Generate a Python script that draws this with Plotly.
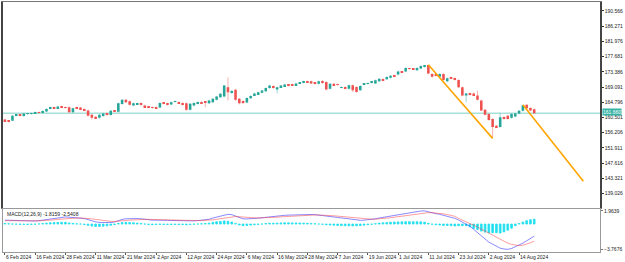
import pandas as pd
import plotly.graph_objects as go

# ---------------- data ----------------
start_date = "2024-02-06"

opens = [159.9, 159.6, 159.6, 161.0, 161.3, 160.9, 161.5, 161.5, 161.7, 162.0,
         161.9, 162.2, 163.0, 163.4, 163.1, 163.6, 163.4, 163.4, 162.0, 163.4,
         163.3, 162.9, 162.5, 161.3, 160.7, 160.4, 160.9, 161.6, 161.2, 162.4,
         162.1, 164.3, 165.5, 165.1, 163.9, 164.3, 164.5, 163.9, 163.6, 163.4,
         163.4, 163.3, 164.6, 164.5, 164.2, 164.9, 164.8, 164.6, 164.5, 162.7,
         163.9, 164.4, 164.9, 164.9, 164.5, 164.8, 165.5, 166.2, 166.4, 169.0,
         167.5, 168.3, 165.8, 165.1, 164.7, 165.9, 166.8, 167.1, 167.5, 167.9,
         168.8, 169.4, 168.4, 169.0, 169.3, 169.8, 169.8, 169.6, 170.2, 170.3,
         170.7, 170.7, 170.3, 170.0, 170.8, 170.5, 168.6, 170.0, 169.9, 168.9,
         169.1, 168.6, 169.6, 169.1, 168.2, 169.8, 170.0, 170.3, 170.1, 170.7,
         171.3, 171.3, 171.7, 172.4, 172.6, 173.4, 173.5, 174.3, 174.2, 173.8,
         174.3, 174.8, 175.3, 172.8, 172.8, 172.0, 172.8, 170.7, 171.8, 171.6,
         171.1, 169.0, 166.7, 167.3, 167.3, 166.7, 165.3, 162.7, 161.5, 160.1,
         158.2, 157.8, 160.6, 161.0, 160.4, 160.8, 161.6, 162.4, 164.1, 163.2,
         162.8]
highs = [160.1, 159.8, 161.2, 161.5, 161.5, 161.8, 161.8, 161.9, 162.2, 162.2,
         162.5, 163.1, 163.6, 163.6, 163.8, 163.8, 163.6, 163.6, 163.3, 163.6,
         163.5, 163.1, 162.7, 161.5, 160.9, 161.5, 161.8, 161.8, 162.6, 162.6,
         164.7, 165.7, 165.7, 165.3, 164.7, 164.7, 164.7, 164.1, 163.8, 163.6,
         163.6, 164.8, 164.8, 164.7, 165.0, 165.3, 165.0, 164.8, 164.7, 164.6,
         164.8, 165.0, 165.1, 165.1, 165.5, 166.0, 166.6, 167.4, 169.7, 171.8,
         168.3, 168.5, 166.0, 165.3, 166.2, 166.8, 167.5, 167.8, 168.3, 169.0,
         169.7, 169.6, 169.2, 169.7, 170.0, 170.0, 170.0, 170.3, 170.5, 170.9,
         170.9, 170.9, 170.5, 170.9, 171.0, 170.7, 170.2, 170.2, 170.1, 169.3,
         169.3, 169.8, 169.8, 169.3, 169.6, 170.2, 170.4, 170.8, 171.2, 171.6,
         171.5, 172.1, 172.5, 172.6, 173.7, 173.6, 174.7, 174.5, 174.4, 174.7,
         175.2, 175.3, 175.4, 173.0, 173.0, 173.0, 173.0, 171.8, 172.0, 171.8,
         171.3, 169.2, 167.5, 167.5, 167.5, 168.1, 165.5, 162.9, 161.7, 160.3,
         158.4, 161.7, 160.8, 161.2, 161.7, 161.8, 162.6, 164.1, 164.2, 163.4,
         163.0]
lows = [159.2, 159.1, 159.5, 160.8, 160.8, 160.7, 161.2, 161.3, 161.5, 161.7,
        161.7, 162.0, 162.8, 162.9, 162.9, 163.1, 163.0, 161.8, 161.8, 162.9,
        162.6, 162.4, 160.8, 159.9, 160.1, 160.2, 160.7, 161.0, 161.0, 162.0,
        161.9, 164.1, 164.6, 163.9, 163.7, 164.1, 163.9, 163.2, 163.1, 163.0,
        162.9, 163.1, 164.2, 163.9, 164.0, 164.7, 164.3, 163.9, 162.4, 162.5,
        163.7, 164.2, 164.3, 163.4, 164.3, 164.6, 165.3, 166.0, 166.2, 165.3,
        167.2, 165.2, 164.2, 164.3, 164.5, 165.7, 166.6, 166.9, 167.3, 167.7,
        168.6, 168.6, 167.3, 168.8, 169.1, 169.3, 169.4, 169.4, 170.0, 170.1,
        170.3, 169.9, 169.8, 169.8, 170.0, 168.2, 168.4, 169.4, 169.5, 168.7,
        168.4, 168.4, 167.7, 167.5, 168.0, 169.6, 169.8, 170.1, 169.9, 170.5,
        170.8, 171.1, 171.5, 172.0, 172.4, 173.1, 173.3, 174.0, 173.9, 173.6,
        174.1, 174.6, 172.7, 171.8, 172.1, 171.8, 170.9, 170.5, 171.4, 170.9,
        168.8, 166.5, 164.8, 166.7, 166.6, 165.3, 162.3, 161.1, 159.6, 154.6,
        157.6, 157.6, 159.9, 159.9, 160.2, 160.6, 161.4, 162.2, 162.9, 162.3,
        161.4]
closes = [159.4, 159.4, 161.0, 161.3, 161.0, 161.6, 161.5, 161.7, 162.0, 161.9,
          162.3, 162.9, 163.4, 163.1, 163.6, 163.3, 163.2, 162.0, 163.1, 163.1,
          162.8, 162.6, 161.0, 160.4, 160.3, 161.3, 161.6, 161.2, 162.4, 162.2,
          164.5, 165.5, 164.8, 164.1, 164.5, 164.4, 164.1, 163.4, 163.3, 163.2,
          163.1, 164.6, 164.4, 164.1, 164.8, 165.1, 164.5, 164.1, 162.7, 164.4,
          164.6, 164.8, 164.5, 164.8, 165.3, 165.8, 166.4, 167.2, 169.5, 167.6,
          168.0, 165.5, 164.5, 164.6, 166.0, 166.6, 167.3, 167.6, 168.1, 168.8,
          169.5, 168.8, 169.0, 169.5, 169.8, 169.5, 169.6, 170.1, 170.3, 170.7,
          170.5, 170.1, 170.0, 170.7, 170.2, 168.4, 170.0, 169.6, 169.7, 169.1,
          168.6, 169.6, 168.2, 167.7, 169.4, 170.0, 170.2, 170.6, 171.0, 171.4,
          171.0, 171.9, 172.3, 172.2, 173.5, 173.3, 174.5, 174.2, 174.1, 174.5,
          175.0, 175.2, 172.9, 172.0, 172.3, 172.8, 171.1, 171.6, 171.6, 171.1,
          169.0, 166.7, 167.3, 166.9, 166.8, 165.5, 162.5, 161.3, 159.8, 157.8,
          157.8, 160.6, 160.1, 160.1, 161.5, 161.6, 162.4, 163.9, 163.1, 162.5,
          161.66]

macd_line = [0.58, 0.55, 0.52, 0.49, 0.46, 0.44, 0.43, 0.43, 0.45, 0.50,
             0.57, 0.66, 0.76, 0.85, 0.94, 1.02, 1.06, 1.02, 0.98, 0.94,
             0.90, 0.82, 0.66, 0.48, 0.32, 0.24, 0.20, 0.18, 0.22, 0.30,
             0.50, 0.68, 0.78, 0.82, 0.83, 0.82, 0.78, 0.70, 0.62, 0.58,
             0.58, 0.60, 0.58, 0.55, 0.53, 0.52, 0.50, 0.48, 0.42, 0.44,
             0.47, 0.52, 0.56, 0.60, 0.70, 0.90, 1.05, 1.20, 1.40, 1.45,
             1.40, 1.20, 0.95, 0.78, 0.76, 0.78, 0.82, 0.86, 0.92, 1.00,
             1.08, 1.12, 1.16, 1.24, 1.30, 1.33, 1.36, 1.40, 1.42, 1.43,
             1.43, 1.42, 1.40, 1.35, 1.30, 1.20, 1.12, 1.05, 0.98, 0.90,
             0.80, 0.72, 0.64, 0.58, 0.56, 0.58, 0.62, 0.68, 0.78, 0.90,
             1.00, 1.10, 1.22, 1.32, 1.42, 1.52, 1.62, 1.72, 1.80, 1.88,
             1.94, 1.96, 1.80, 1.66, 1.55, 1.45, 1.30, 1.20, 1.05, 0.85,
             0.60, 0.30, 0.00, -0.35, -0.80, -1.25, -1.80, -2.25, -2.70, -3.00,
             -3.30, -3.60, -3.72, -3.77, -3.65, -3.42, -3.15, -2.85, -2.50, -2.15,
             -1.8159]
signal_line = [0.50, 0.51, 0.51, 0.51, 0.51, 0.50, 0.49, 0.48, 0.48, 0.48,
               0.50, 0.53, 0.57, 0.62, 0.69, 0.75, 0.81, 0.86, 0.88, 0.90,
               0.90, 0.89, 0.85, 0.78, 0.69, 0.60, 0.52, 0.45, 0.40, 0.38,
               0.40, 0.46, 0.52, 0.58, 0.63, 0.67, 0.70, 0.70, 0.69, 0.67,
               0.66, 0.65, 0.64, 0.62, 0.61, 0.59, 0.58, 0.56, 0.54, 0.52,
               0.51, 0.51, 0.52, 0.53, 0.56, 0.63, 0.71, 0.81, 0.93, 1.03,
               1.10, 1.12, 1.09, 1.03, 0.98, 0.94, 0.92, 0.91, 0.91, 0.93,
               0.96, 0.99, 1.02, 1.07, 1.11, 1.15, 1.19, 1.23, 1.27, 1.30,
               1.32, 1.34, 1.35, 1.35, 1.34, 1.31, 1.28, 1.23, 1.18, 1.13,
               1.06, 0.99, 0.92, 0.85, 0.79, 0.75, 0.72, 0.72, 0.73, 0.76,
               0.81, 0.87, 0.94, 1.02, 1.10, 1.18, 1.27, 1.36, 1.45, 1.53,
               1.61, 1.68, 1.70, 1.69, 1.66, 1.60, 1.52, 1.42, 1.30, 1.15,
               0.85, 0.55, 0.25, 0.05, -0.16, -0.45, -0.75, -1.05, -1.40, -1.72,
               -2.00, -2.25, -2.55, -2.85, -3.03, -3.18, -3.22, -3.15, -3.00, -2.80,
               -2.5408]
macd_hist = [0.08, 0.04, 0.01, -0.02, -0.05, -0.06, -0.06, -0.05, -0.03, 0.02,
             0.07, 0.13, 0.19, 0.23, 0.25, 0.27, 0.25, 0.16, 0.10, 0.04,
             0.00, -0.07, -0.19, -0.30, -0.37, -0.36, -0.32, -0.27, -0.18, -0.08,
             0.10, 0.22, 0.26, 0.24, 0.20, 0.15, 0.08, 0.00, -0.07, -0.09,
             -0.08, -0.05, -0.06, -0.07, -0.08, -0.07, -0.08, -0.08, -0.12, -0.08,
             -0.04, 0.01, 0.04, 0.07, 0.14, 0.27, 0.34, 0.39, 0.47, 0.42,
             0.30, 0.08, -0.14, -0.25, -0.22, -0.16, -0.10, -0.05, 0.01, 0.07,
             0.12, 0.13, 0.14, 0.17, 0.19, 0.18, 0.17, 0.17, 0.15, 0.13,
             0.11, 0.08, 0.05, 0.00, -0.04, -0.11, -0.16, -0.18, -0.20, -0.23,
             -0.26, -0.27, -0.28, -0.27, -0.23, -0.17, -0.10, -0.04, 0.05, 0.14,
             0.19, 0.23, 0.28, 0.30, 0.32, 0.34, 0.35, 0.36, 0.35, 0.35,
             0.33, 0.28, 0.10, -0.03, -0.11, -0.15, -0.22, -0.22, -0.25, -0.30,
             -0.25, -0.25, -0.25, -0.40, -0.64, -0.80, -1.05, -1.20, -1.30, -1.28,
             -1.30, -1.35, -1.17, -0.92, -0.62, -0.24, 0.07, 0.30, 0.50, 0.65,
             0.73]

current_price = 161.66
current_label = "161.660"

wave1_dates = ["2024-07-11", "2024-08-05"]
wave1_prices = [175.4, 154.6]
wave2_dates = ["2024-08-15", "2024-09-06"]
wave2_prices = [164.1, 142.5]

axis_end_date = "2024-09-13"
tick_dates = ["2024-02-06", "2024-02-16", "2024-02-28", "2024-03-11", "2024-03-21",
              "2024-04-02", "2024-04-12", "2024-04-24", "2024-05-06", "2024-05-16",
              "2024-05-28", "2024-06-07", "2024-06-19", "2024-07-01", "2024-07-11",
              "2024-07-23", "2024-08-02", "2024-08-14"]
tick_labels = ["6 Feb 2024", "16 Feb 2024", "28 Feb 2024", "11 Mar 2024", "21 Mar 2024",
               "2 Apr 2024", "12 Apr 2024", "24 Apr 2024", "6 May 2024", "16 May 2024",
               "28 May 2024", "7 Jun 2024", "19 Jun 2024", "1 Jul 2024", "11 Jul 2024",
               "23 Jul 2024", "2 Aug 2024", "14 Aug 2024"]
price_ticks = [190.566, 186.271, 181.976, 177.681, 173.386, 169.091, 164.796,
               160.501, 156.206, 151.911, 147.616, 143.321, 139.026]
macd_ticks = [1.9639, -3.7676]
macd_title = "MACD(12,26,9) -1.8159 -2.5408"

# ---------------- build ----------------
dates = [d.strftime("%Y-%m-%d") for d in pd.bdate_range(start_date, periods=len(closes))]
all_dates = [d.strftime("%Y-%m-%d") for d in pd.bdate_range(start_date, axis_end_date)]

UP, DN = "#26a69a", "#ef5350"
UP_W, DN_W = "rgba(38,166,154,0.45)", "rgba(239,83,80,0.45)"
FONT = "Liberation Sans"

up_wx, up_wy, dn_wx, dn_wy = [], [], [], []
body_base, body_h, body_col = [], [], []
for d, o, h, l, c in zip(dates, opens, highs, lows, closes):
    if c >= o:
        up_wx += [d, d, None]; up_wy += [l, h, None]; body_col.append(UP)
    else:
        dn_wx += [d, d, None]; dn_wy += [l, h, None]; body_col.append(DN)
    body_base.append(min(o, c))
    body_h.append(max(abs(c - o), 0.12))

fig = go.Figure()
fig.add_trace(go.Scatter(x=up_wx, y=up_wy, mode="lines", line=dict(color=UP_W, width=1),
                         xaxis="x", yaxis="y", hoverinfo="skip"))
fig.add_trace(go.Scatter(x=dn_wx, y=dn_wy, mode="lines", line=dict(color=DN_W, width=1),
                         xaxis="x", yaxis="y", hoverinfo="skip"))
fig.add_trace(go.Bar(x=dates, y=body_h, base=body_base, width=0.68,
                     marker=dict(color=body_col, line=dict(width=0)),
                     xaxis="x", yaxis="y"))
fig.add_trace(go.Scatter(x=wave1_dates, y=wave1_prices, mode="lines",
                         line=dict(color="#ffa500", width=1.6), xaxis="x", yaxis="y"))
fig.add_trace(go.Scatter(x=wave2_dates, y=wave2_prices, mode="lines",
                         line=dict(color="#ffa500", width=1.6), xaxis="x", yaxis="y"))

# MACD panel
fig.add_trace(go.Bar(x=dates, y=macd_hist, width=0.45,
                     marker=dict(color="#22e0f0", line=dict(color="#22e0f0", width=0.8)),
                     xaxis="x2", yaxis="y2"))
fig.add_trace(go.Scatter(x=dates, y=macd_line, mode="lines",
                         line=dict(color="rgba(40,40,255,0.55)", width=1), xaxis="x2", yaxis="y2"))
fig.add_trace(go.Scatter(x=dates, y=signal_line, mode="lines",
                         line=dict(color="rgba(255,60,60,0.5)", width=1), xaxis="x2", yaxis="y2"))

fig.add_shape(type="line", xref="paper", x0=0, x1=1, yref="y", y0=current_price, y1=current_price,
              line=dict(color="#a8e0da", width=1.5), layer="below")

fig.add_annotation(xref="paper", x=1.0, xanchor="left", yref="y", y=current_price, yanchor="middle",
                   text=current_label, showarrow=False, bgcolor="#35b3a4",
                   font=dict(family=FONT, size=5, color="white"), borderpad=0, xshift=2, yshift=1)
fig.add_annotation(xref="paper", x=0.003, xanchor="left", yref="paper", y=0.172, yanchor="top",
                   text=macd_title, showarrow=False, font=dict(family=FONT, size=5, color="#222"))

xr = [-0.5, 157.4]
fig.update_layout(
    width=625, height=262,
    margin=dict(l=1, r=25, t=1, b=10),
    paper_bgcolor="white", plot_bgcolor="white",
    showlegend=False, barmode="overlay",
    font=dict(family=FONT, size=5, color="#222"),
    xaxis=dict(type="category", categoryorder="array", categoryarray=all_dates, range=xr,
               anchor="y", showticklabels=False, showgrid=False, zeroline=False,
               showline=True, mirror=True, linecolor="#777", linewidth=1),
    xaxis2=dict(type="category", categoryorder="array", categoryarray=all_dates, range=xr,
                matches="x", anchor="y2", showgrid=False, zeroline=False,
                tickmode="array", tickvals=tick_dates, ticktext=tick_labels,
                ticks="outside", ticklen=2, tickcolor="#555",
                ticklabelposition="outside right", tickangle=0,
                tickfont=dict(family=FONT, size=5, color="#222"),
                showline=True, mirror=True, linecolor="#999", linewidth=1),
    yaxis=dict(domain=[0.1773, 1.0], side="right", range=[135.04, 193.10],
               tickmode="array", tickvals=price_ticks, tickformat=".3f",
               ticks="outside", ticklen=2, tickcolor="#333",
               tickfont=dict(family=FONT, size=5, color="#222"),
               showgrid=False, zeroline=False,
               showline=True, mirror=True, linecolor="#444", linewidth=1.5),
    yaxis2=dict(domain=[0.0, 0.1733], side="right", range=[-4.168, 2.29],
                tickmode="array", tickvals=macd_ticks, tickformat=".4f",
                ticks="outside", ticklen=2, tickcolor="#777",
                tickfont=dict(family=FONT, size=5, color="#222"),
                showgrid=False, zeroline=False,
                showline=True, mirror=True, linecolor="#999", linewidth=1),
)

fig.write_html("out.html")
